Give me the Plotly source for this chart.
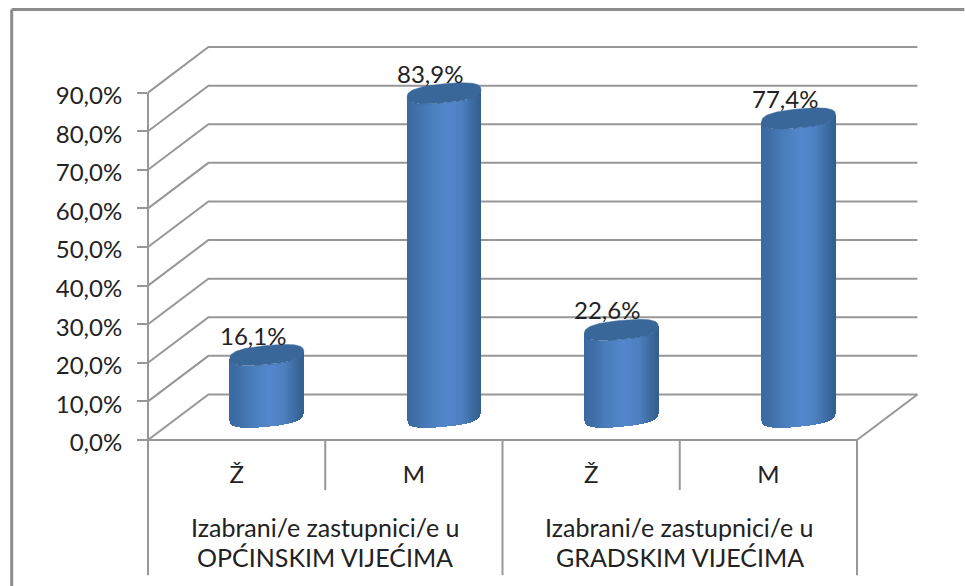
import numpy as np
import plotly.graph_objects as go

# ---- data ----
bar_categories = ["Ž", "M", "Ž", "M"]
bar_values = [16.1, 83.9, 22.6, 77.4]
bar_labels = ["16,1%", "83,9%", "22,6%", "77,4%"]
y_ticks = [0, 10, 20, 30, 40, 50, 60, 70, 80, 90]
y_tick_labels = ["0,0%", "10,0%", "20,0%", "30,0%", "40,0%", "50,0%", "60,0%", "70,0%", "80,0%", "90,0%"]
group_lines = [["Izabrani/e zastupnici/e u", "OPĆINSKIM VIJEĆIMA"],
               ["Izabrani/e zastupnici/e u", "GRADSKIM VIJEĆIMA"]]

# ---- layout constants (pixels) ----
W, H = 965, 586
YMAX = 100
L, R, B = 147.5, 857.5, 440.0
UX = (R - L) / 4          # px per category
UY = (B - 93.0) / 90      # px per percent
T = B - YMAX * UY
DX, DY = 60.5 / UX, 45.5 / UY   # depth of the floor, axis units
A, CAP_B, TILT, E = 37.0 / UX, 9.5, 3.5, 0.75   # cylinder half width; ellipse px; squareness
GREY = "#979797"
FONT = "Lato"
FS = 24
FS_GROUP = 25


def px(x):  # paper x from axis x
    return x / 4


def py(y):  # paper y from axis y
    return y / YMAX


def line(x0, y0, x1, y1, width=2, color=GREY):
    return dict(type="line", xref="paper", yref="paper", x0=x0, y0=y0, x1=x1, y1=y1,
                layer="below", line=dict(color=color, width=width))


shapes = []
for v in y_ticks:
    path = "M %f %f L %f %f L %f %f" % (px(0), py(v), px(DX), py(v + DY), px(4 + DX), py(v + DY))
    shapes.append(dict(type="path", xref="paper", yref="paper", path=path, layer="below",
                       line=dict(color=GREY, width=2)))
# floor front and right edges
shapes.append(line(px(0), py(0), px(4), py(0)))
shapes.append(line(px(4), py(0), px(4 + DX), py(DY)))
# value wall and category dividers
low = (B - 575) / (B - T)
mid = (B - 490) / (B - T)
shapes.append(line(0, py(90), 0, low))
shapes.append(line(px(1), 0, px(1), mid))
shapes.append(line(px(2), 0, px(2), low))
shapes.append(line(px(3), 0, px(3), mid))
shapes.append(line(px(4), 0, px(4), low))
# outer chart frame
fx = (11 - L) / (R - L)
fy = (B - 10) / (B - T)
shapes.append(line(fx, fy, (W - L) / (R - L), fy, 3, "#8c8c8c"))
shapes.append(line(fx, fy, fx, (B - H) / (B - T), 3, "#8c8c8c"))

# gradient stops across a cylinder
stops_u = [-1.0, -0.8, -0.4, 0.1, 0.5, 0.8, 1.0]
stops_r = [0x3a, 0x3e, 0x4a, 0x54, 0x4d, 0x3e, 0x33]
stops_g = [0x6a, 0x6e, 0x7d, 0x88, 0x80, 0x6c, 0x60]
stops_b = [0xa2, 0xa5, 0xba, 0xcc, 0xc0, 0xa2, 0x8e]

n = 75
us = np.linspace(-1, 1, n)
cols = ["rgb(%d,%d,%d)" % (np.interp(u, stops_u, stops_r), np.interp(u, stops_u, stops_g),
                           np.interp(u, stops_u, stops_b)) for u in us]
centers = [i + 0.5 + DX / 2 for i in range(len(bar_values))]

bx, bbase, by, bcol = [], [], [], []
for c, v in zip(centers, bar_values):
    for u, col in zip(us, cols):
        bx.append(c + u * A * 0.985)
        low_edge = np.sqrt(np.clip(1 - np.abs(u) ** (2 / E), 0, 1)) ** E
        bbase.append(DY / 2 + (-CAP_B * low_edge + TILT * u) / UY)
        by.append(v)
        bcol.append(col)

fig = go.Figure()
fig.add_trace(go.Bar(x=bx, y=by, base=bbase, width=2 * A / (n - 1) * 1.3,
                     marker=dict(color=bcol, line=dict(width=0)), showlegend=False,
                     hoverinfo="skip"))

t = np.linspace(0, 2 * np.pi, 121)
cu = np.sign(np.cos(t)) * np.abs(np.cos(t)) ** E
su = np.sign(np.sin(t)) * np.abs(np.sin(t)) ** E
annotations = []
for c, v, lab in zip(centers, bar_values, bar_labels):
    fig.add_trace(go.Scatter(
        x=c + A * cu,
        y=v + DY / 2 + (CAP_B * su + TILT * cu) / UY,
        mode="lines", fill="toself", fillcolor="#3a6799", line=dict(width=0.5, color="#3a6799"),
        showlegend=False, hoverinfo="skip", cliponaxis=False))
    annotations.append(dict(x=c, y=v + DY / 2, xref="x", yref="y", text=lab, showarrow=False,
                            xshift=-14, yshift=20, font=dict(family=FONT, size=FS, color="#222222")))

for g, lines in enumerate(group_lines):
    for row, (txt, yy) in enumerate(zip(lines, [527, 557])):
        annotations.append(dict(x=2 * g + 1, y=(B - yy) / (B - T), xref="x", yref="paper", text=txt,
                                yanchor="middle", xanchor="center",
                                showarrow=False, font=dict(family=FONT, size=FS_GROUP, color="#222222")))

fig.update_layout(
    width=W, height=H, margin=dict(l=L, r=W - R, t=T, b=H - B, pad=0),
    paper_bgcolor="white", plot_bgcolor="white",
    barmode="overlay", bargap=0, shapes=shapes, annotations=annotations, showlegend=False,
    font=dict(family=FONT, size=FS, color="#222222"),
    xaxis=dict(range=[0, 4], tickmode="array", tickvals=[0.5, 1.5, 2.5, 3.5], ticktext=bar_categories,
               showgrid=False, zeroline=False, showline=False, ticks="", ticklabelstandoff=18,
               tickfont=dict(family=FONT, size=FS, color="#222222"), fixedrange=True),
    yaxis=dict(range=[0, YMAX], tickmode="array", tickvals=y_ticks, ticktext=y_tick_labels,
               showgrid=False, zeroline=False, showline=False, ticks="outside", ticklen=10,
               tickwidth=2, tickcolor=GREY, ticklabelstandoff=10, ticklabelshift=3,
               tickfont=dict(family=FONT, size=FS, color="#222222"), fixedrange=True),
)

fig.write_html("out.html", post_script="document.body.style.margin='0';",
               config=dict(displayModeBar=False))
